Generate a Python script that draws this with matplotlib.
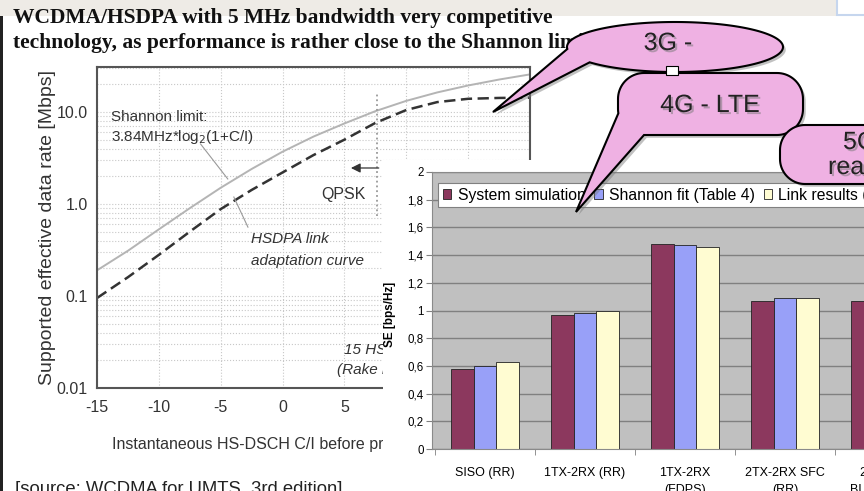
import numpy as np
import matplotlib
matplotlib.use('Agg')
from matplotlib import pyplot as plt
from matplotlib.patches import Polygon, Rectangle
from matplotlib.ticker import LogLocator, NullFormatter
import matplotlib.patheffects as pe

W, H = 864, 491

# left chart: data rate vs C/I
ci_db = [-15, -12.5, -10, -7.5, -5, -2.5, 0, 2.5, 5, 7.5, 10, 12.5, 15, 17.5, 20]
shannon_mbps = [0.19, 0.31, 0.53, 0.9, 1.5, 2.4, 3.7, 5.4, 7.5, 10.2, 13.2, 16.3, 19.4, 22.5, 25.6]
hsdpa_mbps = [0.095, 0.16, 0.28, 0.5, 0.88, 1.42, 2.2, 3.4, 5.0, 7.6, 10.5, 12.8, 13.9, 14.2, 14.3]
qpsk_limit_db = 7.6
qpsk_span = (0.74, 16)

# right chart: spectral efficiency per scheme
schemes = ['SISO (RR)', '1TX-2RX (RR)', '1TX-2RX\n(FDPS)', '2TX-2RX SFC\n(RR)', '2TX-2RX\nBLAST (RR)']
series_names = ['System simulation', 'Shannon fit (Table 4)', 'Link results (Table 3)']
system_sim = [0.58, 0.97, 1.48, 1.07, 1.07]
shannon_fit = [0.60, 0.98, 1.47, 1.09, 1.09]
link_results = [0.63, 0.995, 1.46, 1.09, 1.09]
bar_colors = ['#8C385E', '#98A0F8', '#FFFCD2']
se_ticks = [0, 0.2, 0.4, 0.6, 0.8, 1, 1.2, 1.4, 1.6, 1.8, 2]


def px_box(x0, y0, x1, y1):
    return [x0 / W, 1 - y1 / H, (x1 - x0) / W, (y1 - y0) / H]


def densify(pts, step=2.0):
    out = []
    closed = np.vstack([pts, pts[:1]])
    for a, b in zip(closed[:-1], closed[1:]):
        n = max(int(np.hypot(*(b - a)) / step), 1)
        for k in range(n):
            out.append(a + (b - a) * k / n)
    return np.array(out)


def ellipse_pts(cx, cy, a, b):
    t = np.linspace(0, 2 * np.pi, 400, endpoint=False)
    return np.column_stack([cx + a * np.cos(t), cy + b * np.sin(t)])


def rrect_pts(x0, y0, x1, y1, r, n=20):
    pts = []
    for cx, cy, a0, a1 in [(x1 - r, y0 + r, -90, 0), (x1 - r, y1 - r, 0, 90),
                           (x0 + r, y1 - r, 90, 180), (x0 + r, y0 + r, 180, 270)]:
        t = np.radians(np.linspace(a0, a1, n))
        pts += list(zip(cx + r * np.cos(t), cy + r * np.sin(t)))
    return densify(np.array(pts))


def callout(ax, outline, b1=None, b2=None, tip=None, **kw):
    poly = outline
    if tip is not None:
        i1 = np.argmin(np.hypot(*(outline - b1).T))
        i2 = np.argmin(np.hypot(*(outline - b2).T))
        i1, i2 = min(i1, i2), max(i1, i2)
        arc_in = outline[i1:i2 + 1]
        arc_out = np.vstack([outline[i2:], outline[:i1 + 1]])
        keep = arc_out if len(arc_out) > len(arc_in) else arc_in
        poly = np.vstack([keep, [tip]])
    p = Polygon(poly, closed=True, **kw)
    p.set_path_effects([pe.SimplePatchShadow(offset=(2, -2), shadow_rgbFace='#777777', alpha=0.45), pe.Normal()])
    ax.add_patch(p)


fig = plt.figure(figsize=(8.64, 4.91), dpi=100)
plt.rcParams['font.family'] = ['Liberation Sans', 'DejaVu Sans']
plt.rcParams['axes.unicode_minus'] = False

# background: slide strip, border, titles, source
bg = fig.add_axes([0, 0, 1, 1], zorder=-1)
bg.set_xlim(0, W)
bg.set_ylim(H, 0)
bg.axis('off')
bg.add_patch(Rectangle((0, 0), 836, 16, color='#EEEBE6', lw=0))
bg.add_patch(Rectangle((837, -5), 40, 20, facecolor='white', edgecolor='#C6D6EE', lw=1.5))
bg.add_patch(Rectangle((0, 16), 2.5, H, color='#222222', lw=0))
serif = ['Liberation Serif', 'DejaVu Serif']
bg.text(13, 18, 'WCDMA/HSDPA with 5 MHz bandwidth very competitive', family=serif,
        weight='bold', fontsize=15.5, va='center', color='#111111')
bg.text(13, 43, 'technology, as performance is rather close to the Shannon limit', family=serif,
        weight='bold', fontsize=15.5, va='center', color='#111111')
bg.text(15, 489, '[source: WCDMA for UMTS, 3rd edition]', fontsize=13.3, va='center', color='#222222')

# left chart
ax = fig.add_axes(px_box(97, 67, 530, 388), zorder=1)
ax.set_yscale('log')
ax.plot(ci_db, shannon_mbps, color='#B4B4B4', lw=1.4)
ax.plot(ci_db, hsdpa_mbps, color='#333333', lw=1.8, dashes=(4.5, 2.2))
ax.set_xlim(-15, 20)
ax.set_ylim(0.01, 30.8)
ax.set_xticks([-15, -10, -5, 0, 5, 10, 15, 20])
ax.set_yticks([0.01, 0.1, 1, 10])
ax.set_yticklabels(['0.01', '0.1', '1.0', '10.0'])
ax.yaxis.set_minor_locator(LogLocator(subs=np.arange(2, 10)))
ax.yaxis.set_minor_formatter(NullFormatter())
ax.tick_params(which='both', length=0, labelsize=11.5, colors='#333333')
ax.tick_params(axis='y', pad=6.5)
ax.tick_params(axis='x', pad=9)
ax.grid(True, which='major', axis='x', ls=':', color='#C8C8C8', lw=0.8)
ax.grid(True, which='both', axis='y', ls=':', color='#C8C8C8', lw=0.8)
for s in ax.spines.values():
    s.set_color('#555555')
    s.set_linewidth(1.5)
ax.set_xlabel('Instantaneous HS-DSCH C/I before processing gain [dB]', fontsize=11.5, color='#333333')
ax.xaxis.set_label_coords(0.5, -0.153)
ax.set_ylabel('Supported effective data rate [Mbps]', fontsize=14, color='#333333')
ax.yaxis.set_label_coords(-0.095, 0.5)

ax.plot([qpsk_limit_db, qpsk_limit_db], qpsk_span, ls=':', color='#999999', lw=1.3)
ax.annotate('', xy=(5.3, 2.46), xytext=(8.0, 2.46),
            arrowprops=dict(arrowstyle='-|>', color='#333333', lw=0.9, mutation_scale=14))
ax.text(4.9, 1.28, 'QPSK', fontsize=11.5, ha='center', va='center', color='#333333')
ax.text(-13.9, 8.8, 'Shannon limit:', fontsize=11, va='center', color='#333333')
ax.text(-13.9, 5.35, '3.84MHz*log$_2$(1+C/I)', fontsize=11, va='center', color='#333333')
ax.plot([-6.63, -4.43], [4.49, 1.87], color='#999999', lw=0.8)
ax.plot([-3.94, -2.8], [1.19, 0.56], color='#999999', lw=0.8)
ax.text(-2.56, 0.417, 'HSDPA link', fontsize=11, style='italic', va='center', color='#333333')
ax.text(-2.56, 0.24, 'adaptation curve', fontsize=11, style='italic', va='center', color='#333333')
ax.text(5.0, 0.026, '15 HS-PDSCH codes', fontsize=11, style='italic', va='center', color='#333333')
ax.text(4.4, 0.0157, '(Rake receiver)', fontsize=11, style='italic', va='center', color='#333333')

# white panel of the pasted bar chart
pan = fig.add_axes(px_box(383, 160, W, H), zorder=5)
pan.set_facecolor('white')
pan.set_xticks([])
pan.set_yticks([])
for s in pan.spines.values():
    s.set_visible(False)

# bar chart
bx = fig.add_axes(px_box(432, 172, 964, 449), zorder=6)
x = np.arange(len(schemes))
bw = 0.225
for k, (vals, col, name) in enumerate(zip([system_sim, shannon_fit, link_results], bar_colors, series_names)):
    bx.bar(x + (k - 1) * bw, vals, bw, color=col, edgecolor='#222222', lw=0.6, label=name)
bx.set_xlim(-0.53, 4.79)
bx.set_ylim(0, 2)
bx.set_facecolor('#C0C0C0')
bx.set_yticks(se_ticks)
bx.set_yticklabels([('%g' % v).replace('.', ',') for v in se_ticks])
bx.yaxis.grid(True, color='#808080', lw=1)
bx.set_axisbelow(True)
bx.set_xticks(x)
bx.set_xticklabels(schemes, fontsize=9)
for lbl in bx.get_xticklabels():
    lbl.set_linespacing(1.6)
bx.set_xticks(np.arange(-0.5, 5, 1), minor=True)
bx.tick_params(axis='x', which='major', length=0, pad=13)
bx.tick_params(axis='x', which='minor', length=4, color='#808080')
bx.tick_params(axis='y', length=4, color='#808080', labelsize=8.3, pad=2)
bx.spines['right'].set_visible(False)
for side in ['left', 'bottom', 'top']:
    bx.spines[side].set_color('#8A8A8A')
bx.set_ylabel('SE [bps/Hz]', fontsize=8.5, weight='bold')
bx.yaxis.set_label_coords(-0.068, 0.484)
leg = bx.legend(ncol=3, loc='upper left', bbox_to_anchor=(438 / W, 1 - 183 / H),
                bbox_transform=fig.transFigure, fontsize=11.3, fancybox=False,
                edgecolor='#808080', framealpha=1, borderaxespad=0, handlelength=0.55,
                handleheight=0.55, handletextpad=0.4, columnspacing=0.55, borderpad=0.3)
leg.get_frame().set_linewidth(0.8)

# speech-bubble overlay
ov = fig.add_axes([0, 0, 1, 1], zorder=10)
ov.set_xlim(0, W)
ov.set_ylim(H, 0)
ov.axis('off')
pink = '#EFB1E3'
txt_fx = [pe.withSimplePatchShadow(offset=(1.5, -1.5), shadow_rgbFace='#777777', alpha=0.5)]
callout(ov, densify(ellipse_pts(675, 47, 108, 25)), (570, 48), (590, 63), (493, 112),
        facecolor=pink, edgecolor='black', lw=1.5)
callout(ov, rrect_pts(618, 73, 803, 135, 26), (618, 113), (645, 135), (576, 212),
        facecolor=pink, edgecolor='black', lw=1.5)
callout(ov, rrect_pts(780, 125, 930, 184, 25), facecolor=pink, edgecolor='black', lw=1.5)
ov.add_patch(Rectangle((666, 66), 12, 9, facecolor='white', edgecolor='black', lw=0.8))
ov.text(668, 43, '3G -', fontsize=18, ha='center', va='center', color='#222222', path_effects=txt_fx)
ov.text(710, 105, '4G - LTE', fontsize=18, ha='center', va='center', color='#222222', path_effects=txt_fx)
ov.text(843, 142, '5G -', fontsize=18, va='center', color='#222222', path_effects=txt_fx)
ov.text(828, 167, 'reality?', fontsize=18, va='center', color='#222222', path_effects=txt_fx)

fig.savefig('out.png', dpi=100)
